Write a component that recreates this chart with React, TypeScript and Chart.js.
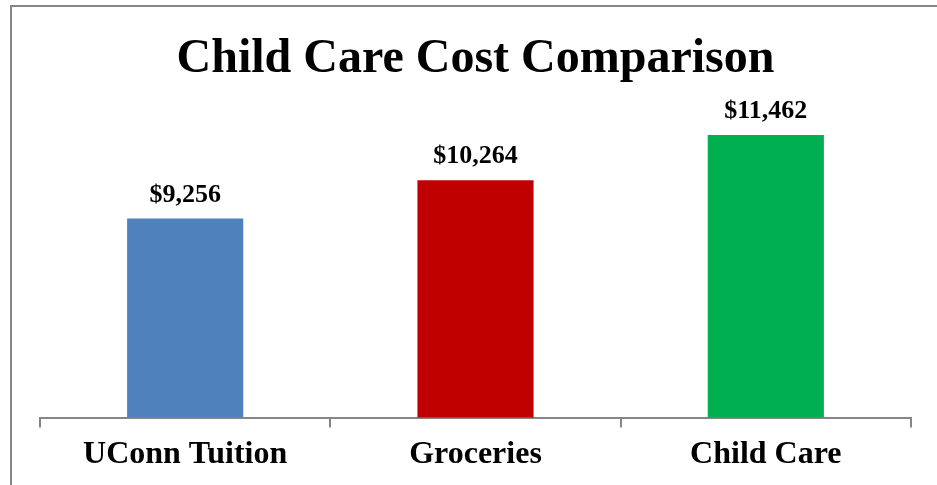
import React, { useEffect, useRef } from "react";
import { Chart, registerables } from "chart.js";

Chart.register(...registerables);

const categories = ["UConn Tuition", "Groceries", "Child Care"];
const costs = [9256, 10264, 11462];
const barColors = ["#4F81BD", "#C00000", "#00B050"];
const axisMin = 4000;
const axisMax = 12000;
const titleText = "Child Care Cost Comparison";

const FONT = "'Liberation Serif', 'Times New Roman', serif";

const valueLabels = {
  id: "valueLabels",
  afterDatasetsDraw(chart: any) {
    const ctx = chart.ctx;
    const meta = chart.getDatasetMeta(0);
    ctx.save();
    ctx.font = `bold 26px ${FONT}`;
    ctx.fillStyle = "#000";
    ctx.textAlign = "center";
    ctx.textBaseline = "alphabetic";
    meta.data.forEach((bar: any, i: number) => {
      const v = chart.data.datasets[0].data[i] as number;
      ctx.fillText("$" + v.toLocaleString("en-US"), bar.x, bar.y - 17);
    });
    ctx.restore();
  },
};

export default function App() {
  const ref = useRef<HTMLCanvasElement>(null);
  useEffect(() => {
    if (!ref.current) return;
    const chart = new Chart(ref.current, {
      type: "bar",
      data: {
        labels: categories,
        datasets: [
          {
            data: costs,
            backgroundColor: barColors,
            barPercentage: 0.4,
            categoryPercentage: 1,
          },
        ],
      },
      options: {
        animation: false,
        responsive: false,
        maintainAspectRatio: false,
        layout: { padding: { left: 40, right: 26, top: 0, bottom: 3 } },
        plugins: {
          legend: { display: false },
          tooltip: { enabled: false },
          title: {
            display: true,
            text: titleText,
            color: "#000",
            font: { family: FONT, size: 48, weight: "bold" },
            padding: { top: 31, bottom: 26 },
          },
        },
        scales: {
          x: {
            grid: {
              display: true,
              drawOnChartArea: false,
              drawTicks: true,
              tickLength: 10,
              color: "#868686",
              lineWidth: 2,
              offset: true,
            },
            border: { display: true, color: "#868686", width: 2 },
            ticks: {
              color: "#000",
              padding: 8,
              font: { family: FONT, size: 32, weight: "bold" },
            },
          },
          y: {
            display: false,
            min: axisMin,
            max: axisMax,
          },
        },
      },
      plugins: [valueLabels],
    });
    return () => chart.destroy();
  }, []);

  return (
    <div style={{ position: "fixed", left: 0, top: 0, width: 937, height: 485, background: "#fff", overflow: "hidden" }}>
      <div
        style={{
          position: "absolute",
          left: 10,
          top: 5,
          width: 1000,
          height: 1000,
          border: "2px solid #868686",
          boxSizing: "border-box",
        }}
      />
      <canvas ref={ref} width={937} height={485} style={{ position: "absolute", left: 0, top: 0, width: 937, height: 485 }} />
    </div>
  );
}
